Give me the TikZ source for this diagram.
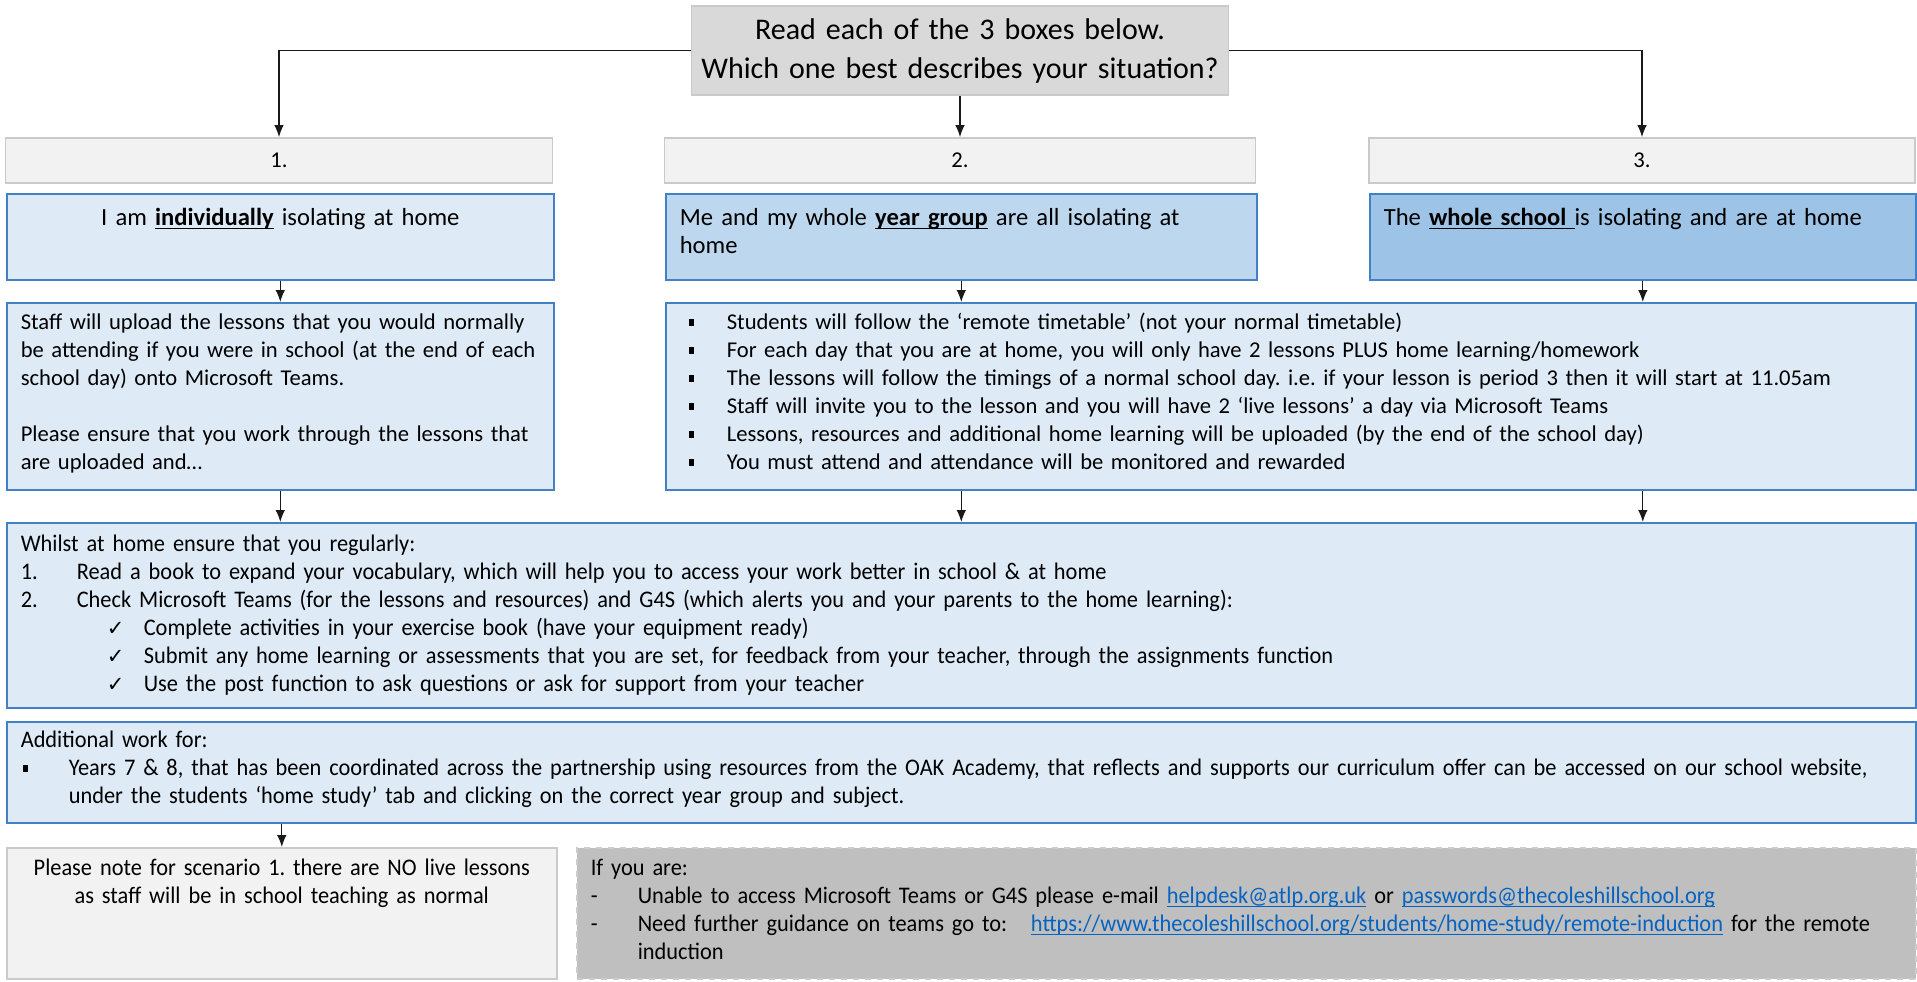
\documentclass[tikz,border=0pt]{standalone}
\usepackage{fontspec}
\setmainfont{Carlito}
\newfontfamily\narrowfont[FakeStretch=0.94]{Carlito}
\newfontfamily\symfont{DejaVu Sans}
\usetikzlibrary{arrows.meta}
\usetikzlibrary{positioning}
\definecolor{paleblue}{HTML}{DEEBF7}
\definecolor{midblue}{HTML}{BDD7EE}
\definecolor{deepblue}{HTML}{9DC3E6}
\definecolor{edgeblue}{HTML}{4281C6}
\definecolor{palegrey}{HTML}{F2F2F2}
\definecolor{edgegrey}{HTML}{CACACA}
\definecolor{midgrey}{HTML}{D9D9D9}
\definecolor{darkgrey}{HTML}{BFBFBF}
\definecolor{linkblue}{HTML}{0563C1}
\frenchspacing
\newlength{\ulwd}
\newcommand{\uln}[1]{\settowidth{\ulwd}{#1}\rlap{\rule[-1.7pt]{\ulwd}{0.65pt}}#1}
\newcommand{\sqbul}{\rule[1.8pt]{2.8pt}{3.6pt}}
\newcommand{\tick}{{\symfont\fontsize{10.5}{10}\selectfont ✓}}
\newcommand{\weblink}[1]{\textcolor{linkblue}{\uln{#1}}}
\tikzstyle{topnode} = [draw=edgegrey, fill=midgrey, line width=0.8pt, anchor=north, inner xsep=2pt, inner ysep=0pt, text width=264.5pt, text height=16.8pt, text depth=27.7pt, align=center, font=\fontsize{15}{19.5}\selectfont]
\tikzstyle{numnode} = [draw=edgegrey, fill=palegrey, line width=0.9pt, minimum height=22.5pt, inner sep=0pt, font=\fontsize{11.3}{13}\selectfont]
\tikzstyle{boxnode} = [draw=edgeblue, fill=paleblue, line width=0.8pt, anchor=north west, inner xsep=7pt, inner ysep=0pt, align=left, font=\fontsize{11.3}{14}\selectfont]
\tikzstyle{headnode} = [boxnode, text height=16pt, text depth=27pt, font=\fontsize{12.3}{14}\selectfont]
\tikzstyle{lownode} = [boxnode, font=\narrowfont\fontsize{11.9}{14}\selectfont]
\tikzstyle{flow} = [-{Latex[length=6pt,width=4.8pt]}, line width=0.65pt, black!90]

\begin{document}
\begin{tikzpicture}[x=0.5pt, y=-0.5pt]
  \useasboundingbox (0,0) rectangle (1917,981);

  \node[topnode] (q) at (960,5) {\mbox{Read each of the 3 boxes below.}\\\mbox{Which one best describes your situation?}};

  \node[numnode, minimum width=273.5pt] (n1) at (279,160.5) {1.};
  \node[numnode, minimum width=295.5pt] (n2) at (960,160.5) {2.};
  \node[numnode, minimum width=273pt] (n3) at (1642,160.5) {3.};

  \node[headnode, text width=259.5pt, align=center] (s1) at (6,193)
    {I am \uln{\textbf{individually}} isolating at home};
  \node[headnode, fill=midblue, text width=281.5pt] (s2) at (665,193)
    {Me and my whole \uln{\textbf{year group}} are all isolating at\\home};
  \node[headnode, fill=deepblue, text width=259pt] (s3) at (1369,193)
    {The \uln{\textbf{whole school }}is isolating and are at home};

  \node[boxnode, text width=259.5pt, text height=13.5pt, text depth=80pt] (c1) at (6,302)
    {\mbox{Staff will upload the lessons that you would normally}\\
     \mbox{be attending if you were in school (at the end of each}\\
     \mbox{school day) onto Microsoft Teams.}\\[14pt]
     \mbox{Please ensure that you work through the lessons that}\\
     are uploaded and…};
  \node[boxnode, text width=611pt, text height=13.5pt, text depth=80pt] (c2) at (665,302)
    {\hspace*{4.5pt}\makebox[19pt][l]{\sqbul}Students will follow the ‘remote timetable’ (not your normal timetable)\\
     \hspace*{4.5pt}\makebox[19pt][l]{\sqbul}For each day that you are at home, you will only have 2 lessons PLUS home learning/homework\\
     \hspace*{4.5pt}\makebox[19pt][l]{\sqbul}The lessons will follow the timings of a normal school day. i.e. if your lesson is period 3 then it will start at 11.05am\\
     \hspace*{4.5pt}\makebox[19pt][l]{\sqbul}Staff will invite you to the lesson and you will have 2 ‘live lessons’ a day via Microsoft Teams\\
     \hspace*{4.5pt}\makebox[19pt][l]{\sqbul}Lessons, resources and additional home learning will be uploaded (by the end of the school day)\\
     \hspace*{4.5pt}\makebox[19pt][l]{\sqbul}You must attend and attendance will be monitored and rewarded};

  \node[lownode, text width=940.5pt, text height=14.5pt, text depth=78pt] (w) at (6,522)
    {Whilst at home ensure that you regularly:\\
     \makebox[28pt][l]{1.}Read a book to expand your vocabulary, which will help you to access your work better in school \& at home\\
     \makebox[28pt][l]{2.}Check Microsoft Teams (for the lessons and resources) and G4S (which alerts you and your parents to the home learning):\\
     \hspace*{43pt}\makebox[18.5pt][l]{\tick}Complete activities in your exercise book (have your equipment ready)\\
     \hspace*{43pt}\makebox[18.5pt][l]{\tick}Submit any home learning or assessments that you are set, for feedback from your teacher, through the assignments function\\
     \hspace*{43pt}\makebox[18.5pt][l]{\tick}Use the post function to ask questions or ask for support from your teacher};

  \node[lownode, text width=940.5pt, text height=13pt, text depth=37.5pt] (a) at (6,721)
    {Additional work for:\\
     \mbox{\hspace*{1pt}\makebox[23pt][l]{\sqbul}Years 7 \& 8, that has been coordinated across the partnership using resources from the OAK Academy, that reflects and supports our curriculum offer can be accessed on our school website,}\\
     \hspace*{24pt}under the students ‘home study’ tab and clicking on the correct year group and subject.};

  \node[lownode, draw=edgegrey, fill=palegrey, text width=261pt, text height=14pt, text depth=51.5pt, align=center] (b1) at (6,847)
    {\mbox{Please note for scenario 1. there are NO live lessons}\\as staff will be in school teaching as normal};
  \node[lownode, draw=white!80!black, dashed, fill=darkgrey, text width=655.5pt, text height=14pt, text depth=51.5pt] (b2) at (576,847)
    {If you are:\\
     \mbox{\makebox[23.5pt][l]{-}Unable to access Microsoft Teams or G4S please e-mail \weblink{helpdesk@atlp.org.uk} or \weblink{passwords@thecoleshillschool.org}}\\
     \mbox{\makebox[23.5pt][l]{-}Need further guidance on teams go to:\ \ \ \weblink{https://www.thecoleshillschool.org/students/home-study/remote-induction} for the remote}\\
     \hspace*{23.5pt}induction};

  \draw[flow] (q.west) -| (n1.north);
  \draw[flow] (q.south) -- (n2.north);
  \draw[flow] (q.east) -| (n3.north);
  \draw[flow] (s1.south) -- (c1.north);
  \draw[flow] (s2.south) -- (s2.south |- c2.north);
  \draw[flow] (s3.south) -- (s3.south |- c2.north);
  \draw[flow] (c1.south) -- (c1.south |- w.north);
  \draw[flow] (s2.south |- c2.south) -- (s2.south |- w.north);
  \draw[flow] (s3.south |- c2.south) -- (s3.south |- w.north);
  \draw[flow] (b1.north |- a.south) -- (b1.north);
\end{tikzpicture}
\end{document}
